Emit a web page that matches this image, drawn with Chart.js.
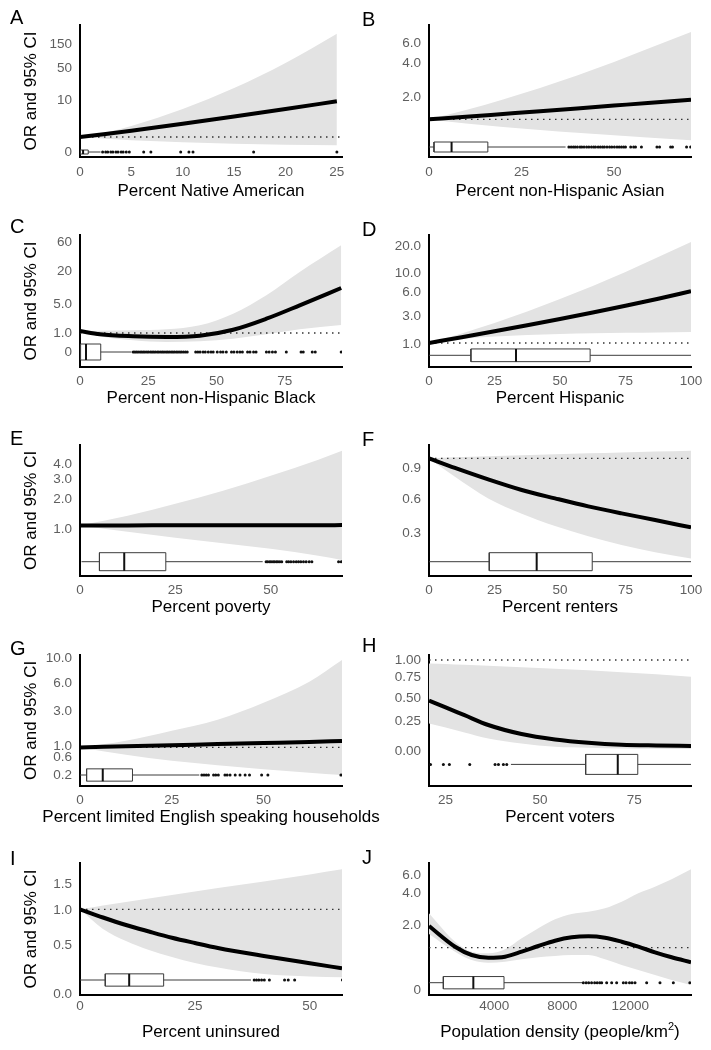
<!DOCTYPE html>
<html>
<head>
<meta charset="utf-8">
<script src="https://cdn.jsdelivr.net/npm/chart.js@4.4.0/dist/chart.umd.min.js"></script>
<style>
  html, body { margin: 0; padding: 0; background: #fff; overflow: hidden; }
  #wrap { position: relative; width: 711px; height: 1050px; }
  #wrap canvas { position: absolute; }
  .letter { position: absolute; font: 20px "Liberation Sans", Arial, sans-serif; line-height: 20px; color: #000; }
  .xtitle { position: absolute; width: 400px; text-align: center; white-space: nowrap;
            font: 17px "Liberation Sans", Arial, sans-serif; line-height: 20px; color: #000; }
  .xtitle sup { font-size: 11px; line-height: 0; vertical-align: 7px; }
</style>
</head>
<body>
<div id="wrap"></div>
<script>
/* ================= DATA =================
   y values are read in each panel's own display units (height above the x axis),
   because the OR axes in the figure are not evenly spaced. */

// A - Percent Native American
const aX = [0, 2.5, 5, 10, 15, 20, 25];
const aFit = [20, 23, 26.3, 33.3, 40.5, 48, 55.7];
const aUpper = [20, 24.5, 31, 48, 69, 94, 123.3];
const aLower = [20, 18.3, 16.7, 14.7, 13.3, 12.3, 11.7];
const aBox = [0, 0, 0.3, 0.8, 2.0];          // whisker low, q1, median, q3, whisker high
const aOut = [2.2, 2.5, 2.7, 3.0, 3.2, 3.5, 3.7, 4.0, 4.2, 4.5, 4.8, 6.2, 6.9, 9.8, 10.6, 11.0, 16.9, 25];
const aXTicks = [0, 5, 10, 15, 20, 25];
const aYTicks = [5, 56.7, 89, 112.3];
const aYLabels = ['0', '10', '50', '150'];
const aRef = 20;

// B - Percent non-Hispanic Asian
const bX = [0, 10, 20, 30, 40, 50, 60, 70.8];
const bFit = [37.7, 40.3, 43, 45.7, 48.5, 51.4, 54.3, 57.3];
const bUpper = [37.7, 47, 57.5, 69, 81.5, 95, 109.5, 125];
const bLower = [37.7, 33.5, 30, 27, 24.3, 21.8, 19.3, 16.7];
const bBox = [0, 1.35, 6.1, 15.9, 36.9];
const bOut = [37.8, 38.4, 39.0, 39.5, 40.1, 40.8, 41.3, 41.9, 42.6, 43.2, 43.9, 44.5, 45.0, 45.7, 46.3, 46.9,
              47.4, 48.1, 48.8, 49.4, 50.1, 50.8, 51.4, 52.0, 52.6, 53.1, 54.5, 55.3, 55.8, 57.4, 61.6, 62.3,
              65.3, 65.8, 69.6, 70.7];
const bXTicks = [0, 25, 50];
const bYTicks = [60, 93.3, 113.3];
const bYLabels = ['2.0', '4.0', '6.0'];
const bRef = 37.7;

// C - Percent non-Hispanic Black
const cX = [0, 7.3, 19.5, 31.7, 43.9, 56.1, 68.3, 80.5, 95.7];
const cFit = [36, 32.7, 30.7, 30, 31.3, 37.3, 48.3, 61.7, 79];
const cUpper = [36, 36.3, 36.7, 37.7, 41.7, 53.3, 71.7, 95, 121.7];
const cLower = [36, 30.7, 26.7, 25, 25.7, 28.3, 32.7, 37.7, 42];
const cBox = [0, 0.2, 2.2, 7.6, 18.9];
const cOut = [19.5, 20.1, 20.7, 21.3, 22.0, 22.6, 23.2, 23.8, 24.5, 25.1, 25.8, 26.4, 27.0, 27.6, 28.3, 28.9,
              29.6, 30.2, 30.8, 31.5, 32.1, 32.7, 33.4, 34.0, 34.6, 35.3, 35.9, 36.6, 37.2, 37.9, 38.6, 39.3,
              42.4, 43.2, 44.0, 45.1, 45.9, 47.0, 48.0, 48.8, 50.3, 51.5, 52.4, 53.6, 55.5, 56.4, 57.6, 58.6,
              59.5, 61.4, 62.3, 63.6, 64.5, 68.3, 69.3, 70.5, 71.6, 75.6, 81.0, 81.8, 85.1, 86.2, 95.7];
const cXTicks = [0, 25, 50, 75];
const cYTicks = [15, 33.5, 62.3, 95.7, 124.3];
const cYLabels = ['0', '1.0', '5.0', '20', '60'];
const cRef = 34;

// D - Percent Hispanic
const dX = [0, 12.5, 25, 37.5, 50, 62.5, 75, 87.5, 100];
const dFit = [24, 29.8, 35.7, 41.7, 48, 54.5, 61.3, 68.3, 75.7];
const dUpper = [24, 33.5, 44, 55.5, 68, 81, 95, 110, 125];
const dLower = [24, 28, 30.5, 32, 33, 33.7, 34.2, 34.6, 35];
const dBox = [0, 16, 33.2, 61.5, 100];
const dOut = [];
const dXTicks = [0, 25, 50, 75, 100];
const dYTicks = [22.3, 50.7, 75, 93.3, 120.7];
const dYLabels = ['1.0', '3.0', '6.0', '10.0', '20.0'];
const dRef = 24;

// E - Percent poverty
const eX = [0, 12.5, 25, 37.5, 50, 62.5, 68.7];
const eFit = [50.3, 50.3, 50.4, 50.4, 50.5, 50.5, 50.6];
const eUpper = [50.3, 60, 72, 85, 100, 116, 125];
const eLower = [50.3, 44, 38, 32.5, 27, 20, 15.7];
const eBox = [0.4, 5.1, 11.6, 22.5, 47.9];
const eOut = [48.8, 49.2, 49.7, 50.1, 50.6, 51.0, 51.5, 51.9, 52.4, 52.9, 54.2, 54.7, 55.3, 56.0, 56.7, 57.3,
              57.9, 58.6, 59.3, 60.1, 60.8, 67.8, 68.5];
const eXTicks = [0, 25, 50];
const eYTicks = [46.7, 76.3, 96.3, 111.3];
const eYLabels = ['1.0', '2.0', '3.0', '4.0'];
const eRef = 50.3;

// F - Percent renters
const fX = [0, 9.9, 22.6, 35.4, 48.1, 60.8, 73.5, 86.3, 100];
const fFit = [117.3, 107.8, 96.3, 85.7, 77.3, 69.3, 62.3, 55.7, 48.3];
const fUpper = [117.3, 118.5, 119.5, 120.5, 121.5, 122.5, 123.3, 124.2, 125];
const fLower = [117.3, 99, 77.3, 62, 49.7, 39.5, 30.7, 23.5, 17.3];
const fBox = [0, 23, 41.1, 62.3, 100];
const fOut = [];
const fXTicks = [0, 25, 50, 75, 100];
const fYTicks = [42.3, 76.7, 107.3];
const fYLabels = ['0.3', '0.6', '0.9'];
const fRef = 117.3;

// G - Percent limited English speaking households
const gX = [0, 12.5, 25, 37.5, 50, 62.5, 71.4];
const gFit = [38.3, 39.4, 40.5, 41.6, 42.7, 43.8, 44.7];
const gUpper = [38.3, 45, 55, 66, 83, 104, 125.7];
const gLower = [38.3, 31, 25, 20.5, 16.5, 13, 10.7];
const gBox = [0, 1.8, 6.2, 14.3, 32.5];
const gOut = [33.2, 33.8, 34.4, 35.0, 36.4, 37.0, 37.7, 39.5, 40.1, 40.9, 42.3, 43.6, 45.0, 46.2, 49.5, 51.2, 71.1];
const gXTicks = [0, 25, 50];
const gYTicks = [10, 28.3, 39, 74, 102.3, 127.3];
const gYLabels = ['0.2', '0.6', '1.0', '3.0', '6.0', '10.0'];
const gRef = 38.3;

// H - Percent voters
const hX = [20.6, 25, 30, 36.3, 45.1, 54, 62.8, 71.6, 80.8, 90];
const hFit = [85, 78.3, 70.5, 60.7, 51.7, 46.3, 43, 41, 40.2, 39.7];
const hUpper = [122.3, 121.8, 121, 120, 118.5, 117, 115.5, 113.5, 111.5, 109];
const hLower = [62.3, 58.3, 53.3, 47.3, 42.3, 39, 38, 37.3, 37, 36.7];
const hBox = [42.3, 62.1, 70.6, 75.9, 90];
const hOut = [21.0, 24.4, 26.0, 31.4, 38.1, 39.0, 40.3, 41.2];
const hXTicks = [25, 50, 75];
const hYTicks = [34, 64, 87.3, 108, 125];
const hYLabels = ['0.00', '0.25', '0.50', '0.75', '1.00'];
const hRef = 125.7;

// I - Percent uninsured
const iX = [0, 5, 10, 15, 20, 25, 30, 40, 50, 57];
const iFit = [85.7, 77.5, 70, 63.5, 57.3, 52, 47, 39, 31.7, 26.7];
const iUpper = [85.7, 89.5, 93, 96.5, 100, 103.5, 107, 113.5, 120.5, 125.7];
const iLower = [85.7, 66, 54, 45, 38, 32, 27.5, 21, 18.5, 17.7];
const iBox = [0, 5.5, 10.7, 18.2, 37.2];
const iOut = [37.9, 38.4, 38.9, 39.5, 40.1, 41.2, 44.5, 45.3, 46.7, 57.1];
const iXTicks = [0, 25, 50];
const iYTicks = [1, 50, 85, 110.7];
const iYLabels = ['0.0', '0.5', '1.0', '1.5'];
const iRef = 85.7;

// J - Population density
const jX = [157, 1690, 2670, 3650, 4630, 5610, 6590, 7570, 8550, 9530, 10510, 11490, 12470, 13450, 14430, 15570];
const jFit = [69, 48.3, 40, 37.3, 38.3, 43.3, 49, 54.3, 57.7, 58.7, 57.3, 53.3, 48.3, 42.7, 37.7, 32.7];
const jUpper = [81.7, 53.3, 43.3, 41.7, 45.7, 56.7, 66.7, 75.7, 81, 83.3, 86.7, 93.3, 101.7, 108.3, 115.7, 125.7];
const jLower = [61, 43.3, 35, 32.3, 33.3, 35.7, 37.7, 39, 40, 40, 35.7, 30, 25, 20, 15, 10];
const jBox = [157, 1000, 2765, 4569, 9176];
const jOut = [9235, 9400, 9550, 9720, 9900, 10050, 10200, 10314, 10608, 10902, 11196, 11588, 11750, 11950,
              12100, 12275, 12961, 13745, 14529, 15500];
const jXTicks = [4000, 8000, 12000];
const jYTicks = [5, 70, 101.7, 120];
const jYLabels = ['0', '2.0', '4.0', '6.0'];
const jRef = 47.3;

/* ================= LAYOUT ================= */

const FONT = '"Liberation Sans", Arial, Helvetica, sans-serif';
const CANVAS_H = 210;
const TICK_SIZE = 13.5;

const rows = [
  { top: 0,   padTop: 25, bottom: 157,   tickPad: 6.9, base: 196.5 },
  { top: 210, padTop: 25, bottom: 157,   tickPad: 6.6, base: 404 },
  { top: 420, padTop: 25, bottom: 155.7, tickPad: 6.2, base: 613 },
  { top: 630, padTop: 25, bottom: 155.7, tickPad: 6.2, base: 822.7 },
  { top: 840, padTop: 23, bottom: 155,   tickPad: 3.6, base: 1038 }
];
const cols = [
  { left: 0,   width: 355, plotLeft: 80, plotRight: 342, letterX: 10 },
  { left: 355, width: 356, plotLeft: 74, plotRight: 336, letterX: 362 }
];

const panels = [
  { id: 'A', row: 0, col: 0, letterBase: 24, xTitle: 'Percent Native American',
    x: aX, fit: aFit, upper: aUpper, lower: aLower, box: aBox, out: aOut,
    xTicks: aXTicks, yTicks: aYTicks, yLabels: aYLabels, ref: aRef, xMin: 0, xMax: 25.5, boxRow: 5, boxH: 4 },
  { id: 'B', row: 0, col: 1, letterBase: 26, xTitle: 'Percent non-Hispanic Asian',
    x: bX, fit: bFit, upper: bUpper, lower: bLower, box: bBox, out: bOut,
    xTicks: bXTicks, yTicks: bYTicks, yLabels: bYLabels, ref: bRef, xMin: 0, xMax: 70.8, boxRow: 10, boxH: 10 },
  { id: 'C', row: 1, col: 0, letterBase: 233, xTitle: 'Percent non-Hispanic Black',
    x: cX, fit: cFit, upper: cUpper, lower: cLower, box: cBox, out: cOut,
    xTicks: cXTicks, yTicks: cYTicks, yLabels: cYLabels, ref: cRef, xMin: 0, xMax: 96, boxRow: 15, boxH: 16 },
  { id: 'D', row: 1, col: 1, letterBase: 236, xTitle: 'Percent Hispanic',
    x: dX, fit: dFit, upper: dUpper, lower: dLower, box: dBox, out: dOut,
    xTicks: dXTicks, yTicks: dYTicks, yLabels: dYLabels, ref: dRef, xMin: 0, xMax: 100, boxRow: 11.7, boxH: 12.7 },
  { id: 'E', row: 2, col: 0, letterBase: 445, xTitle: 'Percent poverty',
    x: eX, fit: eFit, upper: eUpper, lower: eLower, box: eBox, out: eOut,
    xTicks: eXTicks, yTicks: eYTicks, yLabels: eYLabels, ref: eRef, xMin: 0, xMax: 68.7, boxRow: 14, boxH: 18 },
  { id: 'F', row: 2, col: 1, letterBase: 446, xTitle: 'Percent renters',
    x: fX, fit: fFit, upper: fUpper, lower: fLower, box: fBox, out: fOut,
    xTicks: fXTicks, yTicks: fYTicks, yLabels: fYLabels, ref: fRef, xMin: 0, xMax: 100, boxRow: 14, boxH: 18 },
  { id: 'G', row: 3, col: 0, letterBase: 655, xTitle: 'Percent limited English speaking households',
    x: gX, fit: gFit, upper: gUpper, lower: gLower, box: gBox, out: gOut,
    xTicks: gXTicks, yTicks: gYTicks, yLabels: gYLabels, ref: gRef, xMin: 0, xMax: 71.4, boxRow: 10.7, boxH: 12.3 },
  { id: 'H', row: 3, col: 1, letterBase: 652, xTitle: 'Percent voters',
    x: hX, fit: hFit, upper: hUpper, lower: hLower, box: hBox, out: hOut,
    xTicks: hXTicks, yTicks: hYTicks, yLabels: hYLabels, ref: hRef, xMin: 20.6, xMax: 90, boxRow: 21.3, boxH: 20 },
  { id: 'I', row: 4, col: 0, letterBase: 865, xTitle: 'Percent uninsured',
    x: iX, fit: iFit, upper: iUpper, lower: iLower, box: iBox, out: iOut,
    xTicks: iXTicks, yTicks: iYTicks, yLabels: iYLabels, ref: iRef, xMin: 0, xMax: 57, boxRow: 15, boxH: 12.3 },
  { id: 'J', row: 4, col: 1, letterBase: 864, xTitle: 'Population density (people/km<sup>2</sup>)',
    x: jX, fit: jFit, upper: jUpper, lower: jLower, box: jBox, out: jOut,
    xTicks: jXTicks, yTicks: jYTicks, yLabels: jYLabels, ref: jRef, xMin: 157, xMax: 15569, boxRow: 12.3, boxH: 12.3 }
];

/* ================= CHARTS ================= */

Chart.defaults.font.family = FONT;

const wrap = document.getElementById('wrap');

function pts(xs, ys) {
  return xs.map((x, i) => ({ x: x, y: ys[i] }));
}

function makeDatasets(p) {
  const [lo, q1, med, q3, hi] = p.box;
  const y = p.boxRow;
  const h = p.boxH / 2;
  const thin = { borderColor: '#3c3c3c', borderWidth: 1, pointRadius: 0, fill: false };
  const none = 'rgba(0,0,0,0)';

  return [
    // outliers
    { data: p.out.map(v => ({ x: v, y: y })), showLine: false, pointRadius: 1.5,
      pointBackgroundColor: '#111', pointBorderWidth: 0, borderColor: none, order: 0 },
    // median
    { data: [{ x: med, y: y - h }, { x: med, y: y + h }], borderColor: '#111', borderWidth: 2, pointRadius: 0, order: 1 },
    // box
    { data: [{ x: q1, y: y - h }, { x: q3, y: y - h }, { x: q3, y: y + h }, { x: q1, y: y + h }, { x: q1, y: y - h }],
      ...thin, order: 1 },
    // whiskers
    { data: [{ x: lo, y: y }, { x: q1, y: y }], ...thin, order: 1 },
    { data: [{ x: q3, y: y }, { x: hi, y: y }], ...thin, order: 1 },
    // fitted OR
    { data: pts(p.x, p.fit), borderColor: '#000', borderWidth: 4, pointRadius: 0,
      cubicInterpolationMode: 'monotone', order: 2 },
    // OR = 1 reference
    { data: [{ x: p.xMin, y: p.ref }, { x: p.xMax, y: p.ref }], borderColor: '#333', borderWidth: 1.3,
      borderDash: [1.5, 4.5], pointRadius: 0, order: 3 },
    // 95% CI band
    { data: pts(p.x, p.upper), borderColor: none, borderWidth: 0, pointRadius: 0,
      backgroundColor: '#e3e3e3', fill: '+1', cubicInterpolationMode: 'monotone', order: 4 },
    { data: pts(p.x, p.lower), borderColor: none, borderWidth: 0, pointRadius: 0,
      fill: false, cubicInterpolationMode: 'monotone', order: 4 }
  ];
}

panels.forEach(p => {
  const r = rows[p.row];
  const c = cols[p.col];

  const cv = document.createElement('canvas');
  cv.width = c.width;
  cv.height = CANVAS_H;
  cv.style.left = c.left + 'px';
  cv.style.top = r.top + 'px';
  wrap.appendChild(cv);

  new Chart(cv, {
    type: 'line',
    data: { datasets: makeDatasets(p) },
    options: {
      responsive: false,
      animation: false,
      events: [],
      layout: { padding: { top: r.padTop, right: c.width - c.plotRight, bottom: 0, left: 0 } },
      plugins: { legend: { display: false }, tooltip: { enabled: false } },
      scales: {
        x: {
          type: 'linear', min: p.xMin, max: p.xMax, offset: false,
          grid: { display: false, drawTicks: false },
          border: { display: true, color: '#000', width: 2 },
          ticks: { color: '#5f5f5f', font: { size: TICK_SIZE }, padding: r.tickPad, autoSkip: false,
                   maxRotation: 0, callback: v => String(v) },
          afterBuildTicks: s => { s.ticks = p.xTicks.map(v => ({ value: v })); },
          afterFit: s => { s.height = CANVAS_H - r.bottom; }
        },
        y: {
          type: 'linear', min: 0, max: r.bottom - r.padTop, offset: false,
          grid: { display: false, drawTicks: false },
          border: { display: true, color: '#000', width: 2 },
          ticks: { color: '#5f5f5f', font: { size: TICK_SIZE }, padding: 8, autoSkip: false,
                   callback: (v, i) => p.yLabels[i] },
          afterBuildTicks: s => { s.ticks = p.yTicks.map(v => ({ value: v })); },
          afterFit: s => { s.width = c.plotLeft; },
          title: { display: p.col === 0, text: 'OR and 95% CI', color: '#000',
                   font: { size: 17 }, padding: { top: 21, bottom: 0 } }
        }
      }
    }
  });

  const letter = document.createElement('div');
  letter.className = 'letter';
  letter.textContent = p.id;
  letter.style.left = c.letterX + 'px';
  letter.style.top = (p.letterBase - 16.9) + 'px';
  wrap.appendChild(letter);

  const xt = document.createElement('div');
  xt.className = 'xtitle';
  xt.innerHTML = p.xTitle;
  xt.style.left = (c.left + (c.plotLeft + c.plotRight) / 2 - 200) + 'px';
  xt.style.top = (r.base - 15.9) + 'px';
  wrap.appendChild(xt);
});
</script>
</body>
</html>
